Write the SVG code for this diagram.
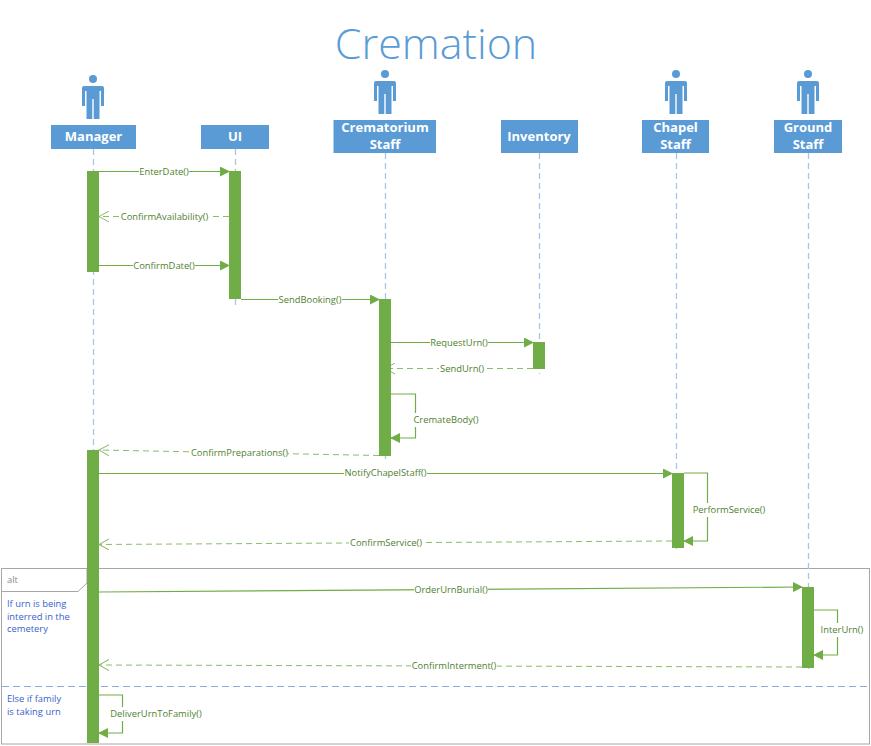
<svg xmlns="http://www.w3.org/2000/svg" width="871" height="746" viewBox="0 0 871 746">
<style>
text{font-family:"Open Sans","Noto Sans","Liberation Sans",sans-serif}
.title{font-size:43px;fill:#5b9bd5;font-weight:300;text-anchor:middle}
.box{fill:#5b9bd5}
.name{font-size:13px;font-weight:700;fill:#fff;text-anchor:middle}
.life{stroke:#a9c6e6;stroke-width:1.300;stroke-dasharray:6 4;fill:none}
.act{fill:#70ad47}
.msg{stroke:#70ad47;stroke-width:1.200;fill:none}
.ret{stroke:#70ad47;stroke-width:1;fill:none;stroke-dasharray:6 4;opacity:.8}
.lab{font-size:9.400px;fill:#4f7f2f;text-anchor:middle}
.bg{fill:#fff}
.cond{font-size:9.400px;fill:#3a5fcd}
.alt{font-size:9.400px;fill:#8a8a8a}
</style>
<defs>
<marker id="solid" markerWidth="10" markerHeight="10" refX="9" refY="5" orient="auto" markerUnits="userSpaceOnUse"><path d="M0 0L10 5L0 10Z" fill="#70ad47"/></marker>
<marker id="open" markerWidth="11" markerHeight="12" refX="10" refY="6" orient="auto" markerUnits="userSpaceOnUse"><path d="M0 0.500L10 6L0 11.500" fill="none" stroke="#70ad47"/></marker>
<g id="person"><circle cx="0" cy="-40" r="4" fill="#5b9bd5"/><path d="M-11 -31Q-11 -33 -9 -33H9Q11 -33 11 -31V-13H8V-28H6.500V0H0.700V-20H-0.700V0H-6.500V-28H-8V-13H-11Z" fill="#5b9bd5"/></g>
</defs>
<text class="title" x="436" y="59">Cremation</text>
<g id="frame">
<rect x="1.500" y="568.500" width="868" height="175.500" fill="none" stroke="#a6a6a6"/>
<path d="M1.500 591.500H78L87 583V568.500" fill="none" stroke="#a6a6a6"/>
<text class="alt" x="7" y="583">alt</text>
<path d="M2 686.500H869" stroke="#8faadc" stroke-width="1.200" stroke-dasharray="7 4" fill="none"/>
<text class="cond" x="7" y="607">If urn is being</text>
<text class="cond" x="7" y="620">interred in the</text>
<text class="cond" x="7" y="632">cemetery</text>
<text class="cond" x="7" y="702">Else if family</text>
<text class="cond" x="7" y="715">is taking urn</text>
</g>
<g id="lifelines">
<path class="life" d="M93.500 149V743"/>
<path class="life" d="M235.500 149V308"/>
<path class="life" d="M385.500 153V462"/>
<path class="life" d="M539.500 153V374"/>
<path class="life" d="M676.500 153V552"/>
<path class="life" d="M808.500 153V672"/>
</g>
<g id="connectors">
<path class="msg" marker-end="url(#solid)" d="M99 171.500H229"/>
<path class="ret" marker-end="url(#open)" d="M229 216.500H99"/>
<path class="msg" marker-end="url(#solid)" d="M99 265.500H229"/>
<path class="msg" marker-end="url(#solid)" d="M241 299.500H379"/>
<path class="msg" marker-end="url(#solid)" d="M391 342.500H533"/>
<path class="ret" marker-end="url(#open)" d="M533 368.500H385"/>
<path class="msg" marker-end="url(#solid)" d="M391 394H415.500V438H391"/>
<path class="ret" marker-end="url(#open)" d="M379 455.500L99 450"/>
<path class="msg" marker-end="url(#solid)" d="M99 473.500H672"/>
<path class="msg" marker-end="url(#solid)" d="M684 473H707.500V541H684"/>
<path class="ret" marker-end="url(#open)" d="M672 541L99 544.500"/>
<path class="msg" marker-end="url(#solid)" d="M99 592L802 587"/>
<path class="msg" marker-end="url(#solid)" d="M814 610H837.500V655H814"/>
<path class="ret" marker-end="url(#open)" d="M802 667L99 665"/>
<path class="msg" marker-end="url(#solid)" d="M99 695H122.500V733H99"/>
<g id="labels">
<rect class="bg" x="139" y="165" width="50" height="14"/><text class="lab" x="164" y="175">EnterDate()</text>
<rect class="bg" x="120" y="210" width="89" height="14"/><text class="lab" x="164.500" y="220">ConfirmAvailability()</text>
<rect class="bg" x="133" y="259" width="62" height="14"/><text class="lab" x="164" y="269">ConfirmDate()</text>
<rect class="bg" x="278" y="293" width="64" height="14"/><text class="lab" x="310" y="303">SendBooking()</text>
<rect class="bg" x="430" y="336" width="58" height="14"/><text class="lab" x="459" y="346">RequestUrn()</text>
<rect class="bg" x="439" y="362" width="45" height="14"/><text class="lab" x="462" y="372">SendUrn()</text>
<rect class="bg" x="413" y="413" width="66" height="14"/><text class="lab" x="446" y="423">CremateBody()</text>
<rect class="bg" x="191" y="446" width="97" height="14"/><text class="lab" x="239.500" y="456">ConfirmPreparations()</text>
<rect class="bg" x="344" y="466" width="83" height="14"/><text class="lab" x="385.500" y="476">NotifyChapelStaff()</text>
<rect class="bg" x="692" y="503" width="74" height="14"/><text class="lab" x="729" y="513">PerformService()</text>
<rect class="bg" x="349" y="536" width="74" height="14"/><text class="lab" x="386" y="546">ConfirmService()</text>
<rect class="bg" x="414" y="583" width="74" height="14"/><text class="lab" x="451" y="593">OrderUrnBurial()</text>
<rect class="bg" x="820" y="623" width="44" height="14"/><text class="lab" x="842" y="633">InterUrn()</text>
<rect class="bg" x="411" y="659" width="86" height="14"/><text class="lab" x="454" y="669">ConfirmInterment()</text>
<rect class="bg" x="110" y="707" width="92" height="14"/><text class="lab" x="156" y="717">DeliverUrnToFamily()</text>
</g>
</g>
<g id="manager"><use href="#person" x="93" y="119"/><rect class="box" x="51" y="125" width="85" height="24"/><text class="name" x="93.500" y="141">Manager</text><rect class="act" x="87" y="171" width="12" height="101"/><rect class="act" x="87" y="450" width="12" height="293"/></g>
<g id="ui"><rect class="box" x="201" y="125" width="68" height="24"/><text class="name" x="235" y="141">UI</text><rect class="act" x="229" y="171" width="12" height="128"/></g>
<g id="crematorium-staff"><use href="#person" x="385" y="114"/><rect class="box" x="333.500" y="120" width="102.500" height="33"/><text class="name" x="385" y="132">Crematorium</text><text class="name" x="385" y="149">Staff</text><rect class="act" x="379" y="299" width="12" height="157"/></g>
<g id="inventory"><rect class="box" x="501" y="120" width="77" height="33"/><text class="name" x="539" y="141">Inventory</text><rect class="act" x="533" y="342" width="12" height="27"/></g>
<g id="chapel-staff"><use href="#person" x="676" y="114"/><rect class="box" x="642" y="120" width="67" height="33"/><text class="name" x="675.500" y="132">Chapel</text><text class="name" x="675.500" y="149">Staff</text><rect class="act" x="672" y="473" width="12" height="75"/></g>
<g id="ground-staff"><use href="#person" x="808" y="114"/><rect class="box" x="774" y="120" width="68" height="33"/><text class="name" x="808" y="132">Ground</text><text class="name" x="808" y="149">Staff</text><rect class="act" x="802" y="587" width="12" height="81"/></g>
</svg>
